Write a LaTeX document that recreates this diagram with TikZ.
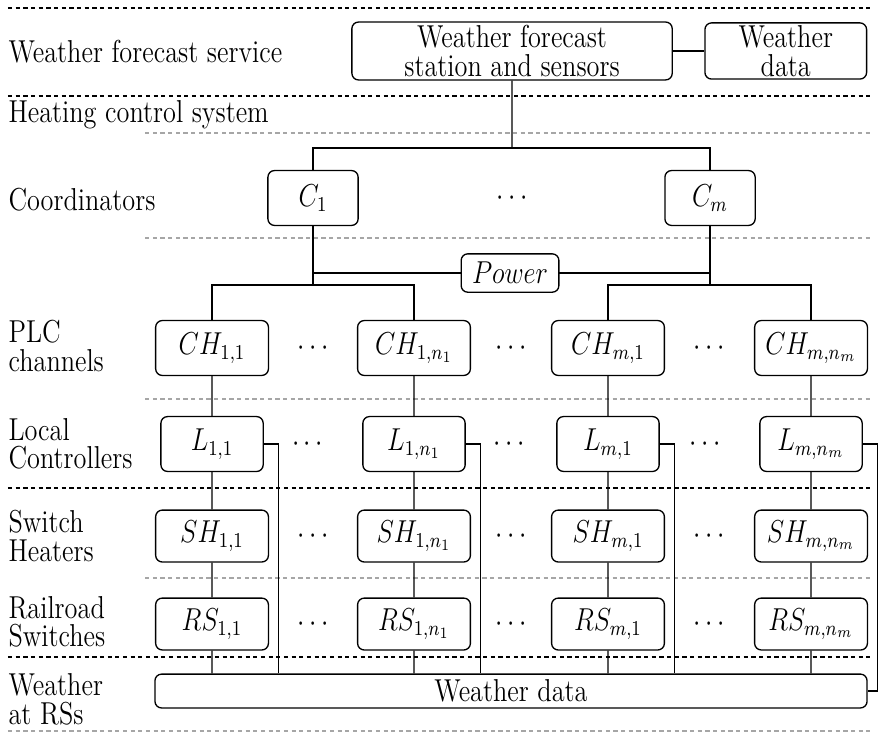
\documentclass[tikz,border=0pt]{standalone}
\usetikzlibrary{positioning}
\begin{document}
\begin{tikzpicture}[line width=0.5pt,
  box/.style={draw,rounded corners=2.5pt,inner sep=1pt,align=center,xscale=0.83,transform shape,font=\fontsize{12}{10.8}\selectfont},
  lbl/.style={anchor=west,inner sep=0pt,align=left,xscale=0.83,transform shape,font=\fontsize{12}{10.8}\selectfont},
  dotnode/.style={xscale=0.83,transform shape,font=\fontsize{12}{12}\selectfont},
  sepline/.style={dash pattern=on 1.6pt off 1.3pt},
  subline/.style={gray!70,dash pattern=on 1.6pt off 1.3pt}]
\useasboundingbox (0,0) rectangle (11.69,-9.762);
% layer separators
\draw[sepline] (0.106,-0.106) -- (11.57,-0.106);
\draw[sepline] (0.106,-1.277) -- (11.57,-1.277);
\draw[subline] (1.93,-1.769) -- (11.57,-1.769);
\draw[subline] (1.93,-3.165) -- (11.57,-3.165);
\draw[subline] (1.93,-5.307) -- (11.57,-5.307);
\draw[sepline] (0.106,-6.490) -- (11.57,-6.490);
\draw[subline] (1.93,-7.687) -- (11.57,-7.687);
\draw[sepline] (0.106,-8.738) -- (11.57,-8.738);
\draw[subline] (0.106,-9.722) -- (11.57,-9.722);
% layer names
\node[lbl] (lws) at (0.106,-0.69) {Weather forecast service};
\node[lbl] (lhc) at (0.106,-1.53) {Heating control system};
\node[lbl] (lco) at (0.106,-2.66) {Coordinators};
\node[lbl] (lplc) at (0.106,-4.60) {PLC\\channels};
\node[lbl] (llc) at (0.106,-5.905) {Local\\Controllers};
\node[lbl] (lsh) at (0.106,-7.13) {Switch\\Heaters};
\node[lbl] (lrs) at (0.106,-8.27) {Railroad\\Switches};
\node[lbl] (lwr) at (0.106,-9.30) {Weather\\at RSs};
% forecast service
\node[box,minimum width=5.133cm,minimum height=0.77cm] (station) at (6.81,-0.678) {Weather forecast\\station and sensors};
\node[box,minimum width=2.59cm,minimum height=0.72cm] (wdata) at (10.45,-0.678) {Weather\\data};
\draw (station) -- (wdata);
% coordinators
\node[box,minimum width=1.446cm,minimum height=0.73cm] (C1) at (4.163,-2.633) {$C_1$};
\node[dotnode] (dotsC) at (6.81,-2.633) {$\cdots$};
\node[box,minimum width=1.446cm,minimum height=0.73cm] (Cm) at (9.443,-2.633) {$C_m$};
\coordinate (top) at (6.81,-1.968);
\draw (station) -- (top);
\draw (C1.north) |- (top) -| (Cm.north);
\node[box,minimum width=1.566cm,minimum height=0.51cm] (power) at (6.783,-3.631) {$Power$};
\coordinate (bl) at (4.163,-3.79);
\coordinate (br) at (9.443,-3.79);
\draw (C1) -- (bl);
\draw (Cm) -- (br);
\draw (power.west) -- (power.west -| C1);
\draw (power.east) -- (power.east -| Cm);
% PLC channels
\node[box,minimum width=1.807cm,minimum height=0.73cm] (CH11) at (2.82,-4.628) {$CH_{1,1}$};
\node[dotnode] (dCH1) at (4.163,-4.628) {$\cdots$};
\node[box,minimum width=1.807cm,minimum height=0.73cm] (CH1n) at (5.506,-4.628) {$CH_{1,n_1}$};
\node[dotnode] (dCH2) at (6.796,-4.628) {$\cdots$};
\node[box,minimum width=1.807cm,minimum height=0.73cm] (CHm1) at (8.086,-4.628) {$CH_{m,1}$};
\node[dotnode] (dCH3) at (9.43,-4.628) {$\cdots$};
\node[box,minimum width=1.807cm,minimum height=0.73cm] (CHmn) at (10.786,-4.628) {$CH_{m,n_m}$};
\draw (CH11.north) |- (bl) -| (CH1n.north);
\draw (CHm1.north) |- (br) -| (CHmn.north);
% local controllers
\node[box,minimum width=1.639cm,minimum height=0.73cm] (L11) at (2.82,-5.905) {$L_{1,1}$};
\node[dotnode] (dL1) at (4.09,-5.905) {$\cdots$};
\node[box,minimum width=1.639cm,minimum height=0.73cm] (L1n) at (5.506,-5.905) {$L_{1,n_1}$};
\node[dotnode] (dL2) at (6.77,-5.905) {$\cdots$};
\node[box,minimum width=1.639cm,minimum height=0.73cm] (Lm1) at (8.086,-5.905) {$L_{m,1}$};
\node[dotnode] (dL3) at (9.38,-5.905) {$\cdots$};
\node[box,minimum width=1.639cm,minimum height=0.73cm] (Lmn) at (10.786,-5.905) {$L_{m,n_m}$};
% switch heaters
\node[box,minimum width=1.807cm,minimum height=0.69cm] (SH11) at (2.82,-7.129) {$SH_{1,1}$};
\node[dotnode] (dSH1) at (4.163,-7.129) {$\cdots$};
\node[box,minimum width=1.807cm,minimum height=0.69cm] (SH1n) at (5.506,-7.129) {$SH_{1,n_1}$};
\node[dotnode] (dSH2) at (6.796,-7.129) {$\cdots$};
\node[box,minimum width=1.807cm,minimum height=0.69cm] (SHm1) at (8.086,-7.129) {$SH_{m,1}$};
\node[dotnode] (dSH3) at (9.43,-7.129) {$\cdots$};
\node[box,minimum width=1.807cm,minimum height=0.69cm] (SHmn) at (10.786,-7.129) {$SH_{m,n_m}$};
% railroad switches
\node[box,minimum width=1.807cm,minimum height=0.69cm] (RS11) at (2.82,-8.299) {$RS_{1,1}$};
\node[dotnode] (dRS1) at (4.163,-8.299) {$\cdots$};
\node[box,minimum width=1.807cm,minimum height=0.69cm] (RS1n) at (5.506,-8.299) {$RS_{1,n_1}$};
\node[dotnode] (dRS2) at (6.796,-8.299) {$\cdots$};
\node[box,minimum width=1.807cm,minimum height=0.69cm] (RSm1) at (8.086,-8.299) {$RS_{m,1}$};
\node[dotnode] (dRS3) at (9.43,-8.299) {$\cdots$};
\node[box,minimum width=1.807cm,minimum height=0.69cm] (RSmn) at (10.786,-8.299) {$RS_{m,n_m}$};
% weather at the switches
\node[box,minimum width=11.41cm,minimum height=0.45cm] (wx) at (6.796,-9.19) {Weather data};
% columns
\draw (CH11) -- (L11) -- (SH11) -- (RS11) -- (RS11 |- wx.north);
\draw (CH1n) -- (L1n) -- (SH1n) -- (RS1n) -- (RS1n |- wx.north);
\draw (CHm1) -- (Lm1) -- (SHm1) -- (RSm1) -- (RSm1 |- wx.north);
\draw (CHmn) -- (Lmn) -- (SHmn) -- (RSmn) -- (RSmn |- wx.north);
\draw (L11.east) -- ++(0.2,0) coordinate (a1) -- (a1 |- wx.north);
\draw (L1n.east) -- ++(0.2,0) coordinate (a2) -- (a2 |- wx.north);
\draw (Lm1.east) -- ++(0.2,0) coordinate (a3) -- (a3 |- wx.north);
\draw (Lmn.east) -- ++(0.2,0) coordinate (a4) |- (wx.east);
\end{tikzpicture}
\end{document}
